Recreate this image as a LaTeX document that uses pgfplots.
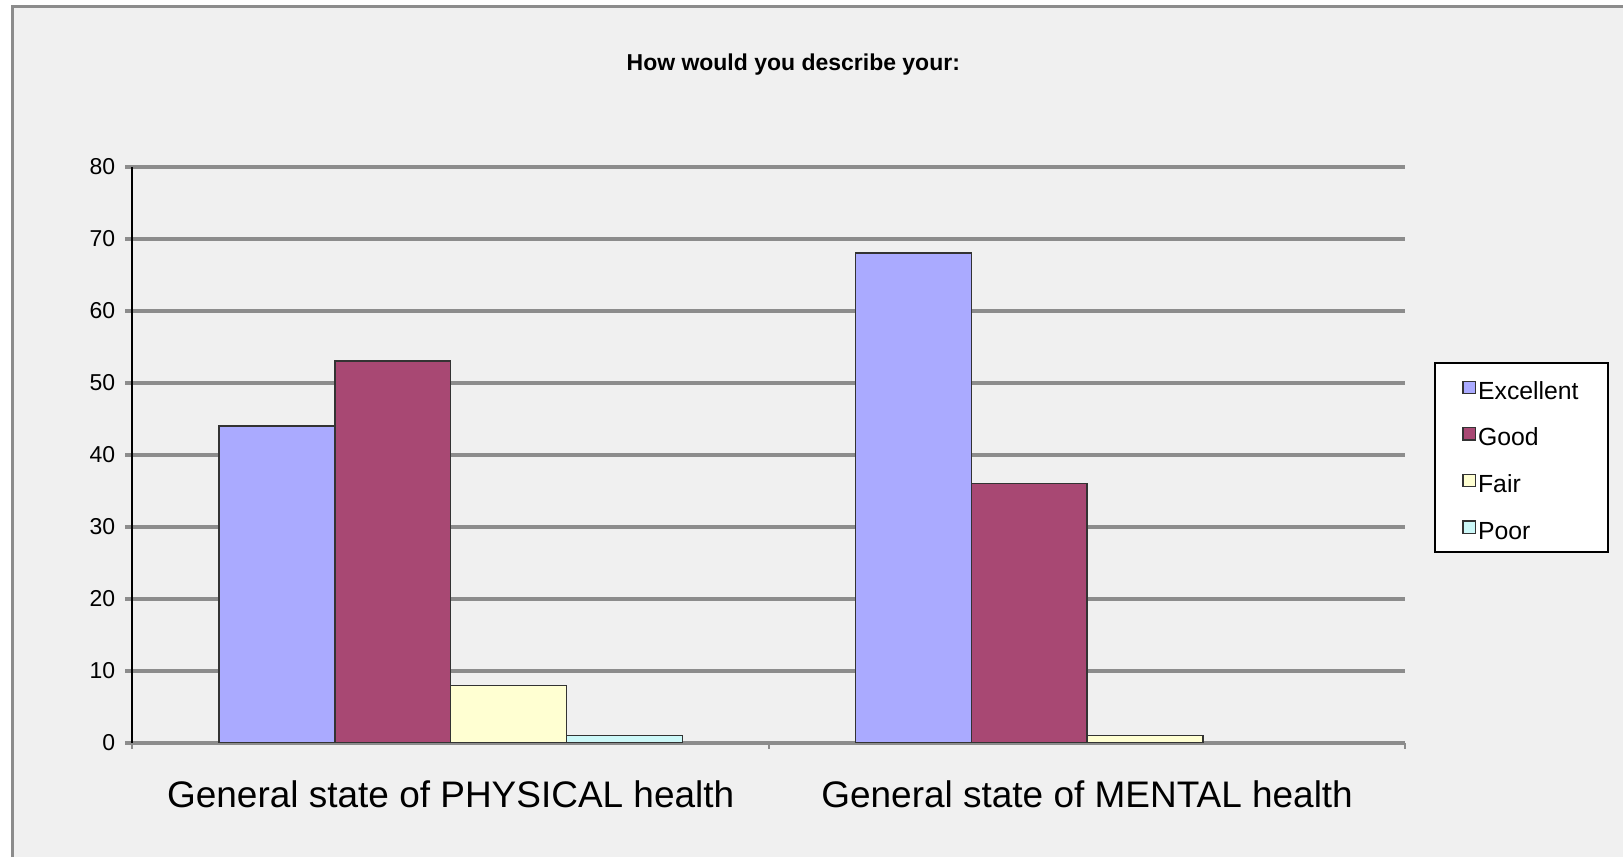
\documentclass[border=0pt]{standalone}
\usepackage{fontspec}
\setmainfont{Liberation Sans}
\usepackage{pgfplots}
\pgfplotsset{compat=1.18}
\definecolor{bg}{HTML}{F0F0F0}
\definecolor{gridgray}{HTML}{8C8C8C}
\definecolor{cExc}{HTML}{AAAAFF}
\definecolor{cGood}{HTML}{A84873}
\definecolor{cFair}{HTML}{FFFFD2}
\definecolor{cPoor}{HTML}{CCF8F8}
\begin{document}
\begin{tikzpicture}[x=1pt,y=1pt]
\fill[white] (0,0) rectangle (812,429);
\fill[bg] (6.5,0) rectangle (812,425.5);
\draw[gridgray, line width=1.5pt] (6.5,0) -- (6.5,425.5) -- (812,425.5);
\node[font=\bfseries\fontsize{11.5}{13}\selectfont] at (397,396.5) {How would you describe your:};
\begin{axis}[
  at={(66.3pt,57.2pt)}, anchor=south west,
  scale only axis, width=637pt, height=288.4pt,
  xmin=-0.5, xmax=1.5, ymin=0, ymax=80,
  ytick={0,10,...,80},
  xtick={0,1},
  xticklabels={General state of PHYSICAL health, General state of MENTAL health},
  minor xtick={-0.5,0.5,1.5},
  axis lines=left,
  axis line style={-},
  x axis line style={draw=gridgray, line width=2pt},
  y axis line style={draw=black, line width=1pt},
  ymajorgrids,
  major grid style={draw=gridgray, line width=2pt},
  tick align=outside,
  major tick length=3.6pt,
  minor tick length=3pt,
  xtick style={draw=none},
  minor x tick style={draw=gridgray, line width=1pt},
  ytick style={draw=gridgray, line width=2pt},
  /pgf/number format/assume math mode=true,
  yticklabel style={font=\fontsize{11.5}{13}\selectfont, xshift=-1.5pt},
  xticklabel style={font=\fontsize{18.5}{21}\selectfont, yshift=-11.7pt},
  ybar=0pt, bar width=0.182,
  legend image code/.code={\draw[#1, line width=0.7pt] (0pt,-3.1pt) rectangle (6.2pt,3.1pt);},
  legend cell align=left,
  legend style={at={(1.0228,0.6616)}, anchor=north west, draw=black, line width=1pt, fill=white,
    font=\fontsize{12.4}{14}\selectfont, inner xsep=13.5pt, inner ysep=5.4pt, row sep=9.3pt,
    nodes={inner sep=1pt, text height=12pt, text depth=0pt}},
]
\addplot[fill=cExc, draw=black!80, line width=0.7pt] coordinates {(0,44) (1,68)};
\addplot[fill=cGood, draw=black!80, line width=0.7pt] coordinates {(0,53) (1,36)};
\addplot[fill=cFair, draw=black!80, line width=0.7pt] coordinates {(0,8) (1,1)};
\addplot[fill=cPoor, draw=black!80, line width=0.7pt] coordinates {(0,1)};
\legend{Excellent,Good,Fair,Poor}
\end{axis}
\end{tikzpicture}
\end{document}
